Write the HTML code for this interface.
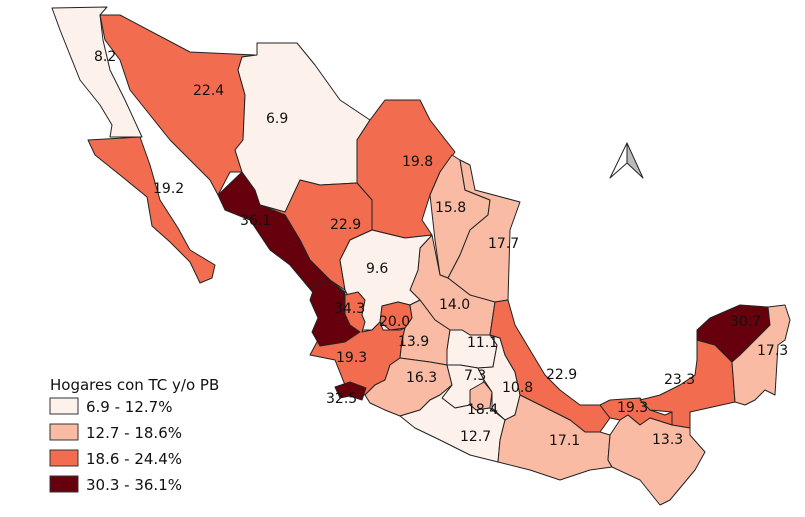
<!DOCTYPE html>
<html><head><meta charset="utf-8"><style>
html,body{margin:0;padding:0;background:#fff}
svg{display:block}
text{font-family:"DejaVu Sans","Liberation Sans",sans-serif;font-size:14px;fill:#111}
.l{fill:#fdf1ec}.s{fill:#f9bba4}.o{fill:#f26c4f}.d{fill:#67000d}
path,polygon{stroke:#222;stroke-width:1;stroke-linejoin:round}
</style></head><body>
<svg width="805" height="517" viewBox="0 0 805 517" xmlns="http://www.w3.org/2000/svg">
<!-- base filler for gaps -->
<polygon points="340,285 425,285 425,335 340,335" fill="#fdf1ec" style="stroke:none"/>
<!-- BC -->
<polygon class="l" points="52,8 107,7 100,15 103,40 110,70 125,100 142,137 110,137 112,125 100,105 80,80 70,55 60,30"/>
<!-- BCS -->
<polygon class="o" points="88,140 140,137 150,165 160,200 178,228 190,250 215,265 212,278 200,283 190,262 170,242 152,226 147,197 120,175 95,155"/>
<!-- Sonora -->
<polygon class="o" points="100,15 120,15 190,52 255,55 242,57 238,70 245,95 243,140 235,150 242,172 230,172 218,195 210,180 190,160 170,140 150,115 130,90 120,60 105,40"/>
<!-- Chihuahua -->
<polygon class="l" points="242,57 257,55 257,43 297,43 315,65 340,100 370,120 357,140 357,183 320,185 300,180 295,200 285,212 260,205 245,190 242,172 235,150 243,140 245,95 238,70"/>
<!-- Coahuila -->
<polygon class="o" points="370,120 385,100 420,100 430,120 455,152 440,172 430,195 422,220 432,235 405,238 372,230 372,200 357,183 357,140"/>
<!-- Durango -->
<polygon class="o" points="260,205 285,212 300,180 320,185 357,183 372,200 372,230 350,240 340,260 345,290 330,280 310,260 300,240 285,215"/>
<!-- Sinaloa -->
<polygon class="d" points="218,195 242,172 255,190 260,205 285,215 300,240 310,260 330,280 345,292 345,320 330,320 315,295 290,265 270,250 250,220 225,210"/>
<!-- NL -->
<polygon class="s" points="452,155 460,160 465,190 490,200 488,215 470,230 460,255 448,278 440,275 435,240 430,195 440,172"/>
<!-- Tamaulipas -->
<polygon class="s" points="460,160 470,165 475,190 520,202 510,230 508,300 495,302 480,300 470,295 448,278 460,255 470,230 488,215 490,200 465,190"/>
<!-- SLP -->
<polygon class="s" points="432,235 440,275 448,278 470,295 495,302 490,335 470,335 462,330 450,330 435,320 420,300 410,290 418,270 420,248"/>
<!-- Zacatecas -->
<polygon class="l" points="372,230 405,238 432,235 420,248 418,270 410,290 420,300 410,305 398,302 382,306 380,322 372,330 362,330 360,310 350,300 345,290 340,260 350,240"/>
<!-- Jalisco -->
<polygon class="o" points="345,295 358,292 365,300 362,315 365,322 362,332 372,330 380,322 383,330 400,330 405,328 402,340 400,358 390,365 385,380 375,385 365,395 345,385 335,360 310,355 318,340 335,332 345,320"/>
<!-- Aguascalientes -->
<polygon class="o" points="382,306 398,302 410,305 412,318 405,328 390,330 380,322"/>
<!-- Nayarit -->
<polygon class="d" points="315,285 330,280 345,295 343,310 350,325 360,332 345,342 320,346 312,332 318,318 310,300"/>
<!-- Colima -->
<polygon class="d" points="335,387 350,382 366,388 362,400 350,396 340,398"/>
<!-- Guanajuato -->
<polygon class="s" points="405,328 412,318 410,305 420,300 435,320 450,330 447,350 447,365 430,362 400,358 402,340"/>
<!-- Michoacan -->
<polygon class="s" points="365,395 375,385 385,380 390,365 400,358 430,362 447,365 452,385 440,395 430,400 420,410 400,416 385,410 370,403"/>
<!-- Queretaro/Hidalgo -->
<polygon class="l" points="450,330 462,330 470,335 490,335 497,345 493,367 478,368 460,365 447,365 447,350"/>
<!-- Edo Mex -->
<polygon class="l" points="447,365 460,365 478,368 484,380 478,395 470,405 455,408 442,398 452,385"/>
<!-- Morelos -->
<polygon class="s" points="470,390 484,382 492,392 490,408 476,410 470,405"/>
<!-- Puebla -->
<polygon class="l" points="490,335 500,338 505,355 515,372 520,395 515,415 505,420 492,408 492,392 484,380 478,368 493,367 497,345"/>
<!-- Guerrero -->
<polygon class="l" points="400,416 420,410 430,400 440,395 452,385 442,398 455,408 470,405 476,410 490,408 505,420 500,440 498,462 470,455 440,440 415,428"/>
<!-- Veracruz -->
<polygon class="o" points="495,302 508,300 515,325 530,350 545,375 560,390 580,405 600,405 610,418 600,432 585,432 570,420 550,410 530,400 520,395 515,372 505,355 500,338 490,335"/>
<!-- Oaxaca -->
<polygon class="s" points="505,420 515,415 520,395 530,400 550,410 570,420 585,432 600,432 610,435 608,460 612,467 590,470 560,480 530,470 498,462 500,440"/>
<!-- Tabasco -->
<polygon class="o" points="600,405 610,400 640,398 650,410 665,415 672,412 672,425 650,418 640,425 628,415 620,420 610,418"/>
<!-- Campeche -->
<polygon class="o" points="697,340 715,345 732,362 735,402 690,412 690,428 672,425 672,412 650,410 640,400 660,395 680,385 695,375 697,360"/>
<!-- Chiapas -->
<polygon class="s" points="610,435 620,420 628,415 640,425 650,418 672,425 690,428 690,435 705,452 695,470 670,500 660,505 640,480 612,467 608,460"/>
<!-- Yucatan -->
<polygon class="d" points="697,330 710,318 740,305 768,307 770,325 755,340 740,355 732,362 715,345 697,340"/>
<!-- QRoo -->
<polygon class="s" points="768,307 785,305 790,320 785,340 778,345 775,395 765,390 755,400 745,405 735,402 732,362 740,355 755,340 770,325"/>
<!-- North arrow -->
<polygon points="627,143 610,178 627,163" fill="#fff" stroke="#222" stroke-width="1.5"/>
<polygon points="627,143 643,178 627,163" fill="#bbb" stroke="#222" stroke-width="1.5"/>
<!-- labels -->
<text x="94" y="61">8.2</text>
<text x="193" y="95">22.4</text>
<text x="266" y="123">6.9</text>
<text x="153" y="193">19.2</text>
<text x="240" y="225">36.1</text>
<text x="330" y="229">22.9</text>
<text x="402" y="166">19.8</text>
<text x="435" y="212">15.8</text>
<text x="488" y="248">17.7</text>
<text x="366" y="273">9.6</text>
<text x="334" y="313">34.3</text>
<text x="379" y="326">20.0</text>
<text x="439" y="309">14.0</text>
<text x="398" y="346">13.9</text>
<text x="467" y="347">11.1</text>
<text x="336" y="362">19.3</text>
<text x="406" y="382">16.3</text>
<text x="464" y="380">7.3</text>
<text x="502" y="392">10.8</text>
<text x="467" y="414">18.4</text>
<text x="546" y="379">22.9</text>
<text x="326" y="403">32.5</text>
<text x="460" y="441">12.7</text>
<text x="549" y="445">17.1</text>
<text x="617" y="412">19.3</text>
<text x="664" y="384">23.3</text>
<text x="730" y="326">30.7</text>
<text x="757" y="355">17.3</text>
<text x="652" y="444">13.3</text>
<!-- legend -->
<text x="50" y="390" style="font-size:15px">Hogares con TC y/o PB</text>
<rect x="50" y="398" width="28" height="16" class="l" stroke="#333"/>
<text x="86" y="412" style="font-size:15px">6.9 - 12.7%</text>
<rect x="50" y="424" width="28" height="16" class="s" stroke="#333"/>
<text x="86" y="438" style="font-size:15px">12.7 - 18.6%</text>
<rect x="50" y="450" width="28" height="16" class="o" stroke="#333"/>
<text x="86" y="464" style="font-size:15px">18.6 - 24.4%</text>
<rect x="50" y="476" width="28" height="16" class="d" stroke="#333"/>
<text x="86" y="490" style="font-size:15px">30.3 - 36.1%</text>
</svg>
</body></html>
